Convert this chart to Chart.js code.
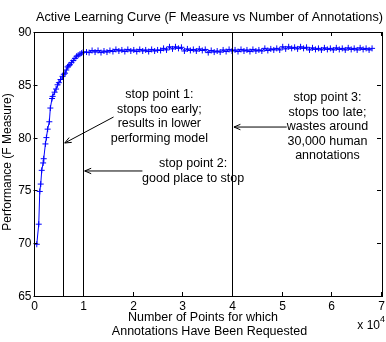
<!DOCTYPE html>
<html>
<head>
<meta charset="utf-8">
<script src="https://cdn.jsdelivr.net/npm/chart.js@4"></script>
<style>
  body { margin: 0; background: #fff; }
</style>
</head>
<body>
<canvas id="myChart" width="386" height="342"></canvas>
<script>
// number of annotations requested (x) and F measure (y)
const annotations = [
  660, 1060, 1260, 1460, 1660, 1940, 2060, 2400, 2600, 2850, 3190, 3390, 3730, 3850,
  4250, 4550, 4850, 5110, 5450, 5850, 6100, 6350, 6600, 6870, 7100, 7350, 7650, 8020,
  8350, 8680, 9000, 9350, 9700, 10020, 10680,
  11200, 11800, 12400, 13000, 13600, 14200, 14800, 15400, 16000, 16600, 17200, 17800,
  18400, 19000, 19600, 20200, 20800, 21400, 22000, 22600, 23200, 23800, 24400, 25000,
  25600, 26200, 26800, 27400, 28000, 28600, 29200, 29800, 30400, 31000, 31600, 32200,
  32800, 33400, 34000, 34600, 35200, 35800, 36400, 37000, 37600, 38200, 38800, 39400,
  40000, 40600, 41200, 41800, 42400, 43000, 43600, 44200, 44800, 45400, 46000, 46600,
  47200, 47800, 48400, 49000, 49600, 50200, 50800, 51400, 52000, 52600, 53200, 53800,
  54400, 55000, 55600, 56200, 56800, 57400, 58000, 58600, 59200, 59800, 60400, 61000,
  61600, 62200, 62800, 63400, 64000, 64600, 65200, 65800, 66400, 67000, 67600, 68200
];
const fMeasure = [
  69.9, 71.8, 74.9, 75.6, 76.9, 77.6, 78.0, 79.4, 80.0, 80.8, 81.5, 82.8, 83.7, 83.9,
  84.3, 84.6, 85.0, 85.2, 85.5, 85.8, 86.0, 86.1, 86.4, 86.7, 86.8, 86.9, 87.1, 87.3,
  87.5, 87.7, 87.8, 87.9, 88.0, 88.1, 88.1,
  88.05, 88.25, 88.1, 88.25, 88.05, 88.2, 88.1, 88.25,
  88.15, 88.35, 88.2, 88.3, 88.15, 88.35, 88.2, 88.3,
  88.15, 88.35, 88.2, 88.3, 88.15, 88.35, 88.2, 88.3,
  88.25, 88.45, 88.3,
  88.6, 88.4, 88.6, 88.45, 88.55,
  88.2, 88.4, 88.25, 88.35, 88.2, 88.4, 88.25, 88.35,
  88.05, 88.25, 88.1, 88.2, 88.1,
  88.3, 88.15, 88.35, 88.2, 88.3, 88.15, 88.35, 88.2, 88.3, 88.15, 88.35, 88.2, 88.3, 88.2,
  88.45, 88.25, 88.4, 88.3, 88.45, 88.3,
  88.6, 88.4, 88.6, 88.45, 88.55, 88.4, 88.6, 88.45, 88.55,
  88.3, 88.5, 88.35, 88.45, 88.3, 88.5, 88.35, 88.45, 88.3, 88.5, 88.35,
  88.45, 88.3, 88.5, 88.35, 88.45, 88.3, 88.5, 88.35, 88.45, 88.3, 88.45
];
const xTicks = [0, 10000, 20000, 30000, 40000, 50000, 60000, 70000];
const xTickLabels = ["0", "1", "2", "3", "4", "5", "6", "7"];
const yTicks = [65, 70, 75, 80, 85, 90];
const stopPoints = [6000, 10000, 40000];

const FONT = '"Liberation Sans", Arial, sans-serif';

const notes = [
  { x: 25350, y: 84.03, lines: ["stop point 1:", "stops too early;", "results in lower", "performing model"],
    from: [16130, 81.95], to: [6300, 79.49] },
  { x: 32160, y: 77.5, lines: ["stop point 2:", "good place to stop"],
    from: [21940, 76.84], to: [10320, 76.84] },
  { x: 59220, y: 83.75, lines: ["stop point 3:", "stops too late;", "wastes around", "30,000 human", "annotations"],
    from: [51000, 81.0], to: [40380, 81.0] }
];

function arrow(ctx, x1, y1, x2, y2) {
  const a = Math.atan2(y2 - y1, x2 - x1);
  const h = 7;
  ctx.beginPath();
  ctx.moveTo(x1, y1);
  ctx.lineTo(x2, y2);
  ctx.moveTo(x2 - h * Math.cos(a - 0.4), y2 - h * Math.sin(a - 0.4));
  ctx.lineTo(x2, y2);
  ctx.lineTo(x2 - h * Math.cos(a + 0.4), y2 - h * Math.sin(a + 0.4));
  ctx.stroke();
}

const matlabAxes = {
  id: "matlabAxes",
  afterDatasetsDraw(chart) {
    const ctx = chart.ctx;
    const xs = chart.scales.x, ys = chart.scales.y;
    const a = chart.chartArea;
    ctx.save();
    ctx.strokeStyle = "#000";
    ctx.fillStyle = "#000";
    ctx.lineWidth = 1;

    // stop point lines
    stopPoints.forEach(v => {
      const px = Math.round(xs.getPixelForValue(v)) + 0.5;
      ctx.beginPath();
      ctx.moveTo(px, a.top);
      ctx.lineTo(px, a.bottom);
      ctx.stroke();
    });

    // box
    ctx.strokeRect(Math.round(a.left) + 0.5, Math.round(a.top) + 0.5,
      Math.round(a.right - a.left), Math.round(a.bottom - a.top));

    // ticks inward
    ctx.font = "12px " + FONT;
    ctx.textAlign = "center";
    ctx.textBaseline = "top";
    xTicks.forEach((v, i) => {
      const px = Math.round(xs.getPixelForValue(v)) + 0.5;
      ctx.beginPath();
      ctx.moveTo(px, a.bottom); ctx.lineTo(px, a.bottom - 4);
      ctx.moveTo(px, a.top); ctx.lineTo(px, a.top + 4);
      ctx.stroke();
      ctx.fillText(xTickLabels[i], px, a.bottom + 5);
    });
    ctx.textAlign = "right";
    ctx.textBaseline = "middle";
    yTicks.forEach(v => {
      const py = Math.round(ys.getPixelForValue(v)) + 0.5;
      ctx.beginPath();
      ctx.moveTo(a.left, py); ctx.lineTo(a.left + 4, py);
      ctx.moveTo(a.right, py); ctx.lineTo(a.right - 4, py);
      ctx.stroke();
      ctx.fillText(String(v), a.left - 2, py);
    });

    // exponent label
    ctx.textAlign = "right";
    ctx.fillText("x 10", 380, 326);
    ctx.font = "9px " + FONT;
    ctx.textAlign = "left";
    ctx.fillText("4", 380, 320);

    // titles
    ctx.font = "12.7px " + FONT;
    ctx.textAlign = "center";
    ctx.fillText("Active Learning Curve (F Measure vs Number of Annotations)", 209.5, 17);
    ctx.font = "12.5px " + FONT;
    ctx.fillText("Number of Points for which", 203, 318);
    ctx.fillText("Annotations Have Been Requested", 209.5, 332);
    ctx.font = "12px " + FONT;
    ctx.save();
    ctx.translate(8, 162);
    ctx.rotate(-Math.PI / 2);
    ctx.fillText("Performance (F Measure)", 0, 0);
    ctx.restore();

    // notes and arrows
    ctx.font = "12.5px " + FONT;
    notes.forEach(n => {
      const cx = xs.getPixelForValue(n.x);
      const cy = ys.getPixelForValue(n.y);
      n.lines.forEach((t, i) => ctx.fillText(t, cx, cy + i * 14.5));
      arrow(ctx, xs.getPixelForValue(n.from[0]), ys.getPixelForValue(n.from[1]),
        xs.getPixelForValue(n.to[0]), ys.getPixelForValue(n.to[1]));
    });
    ctx.restore();
  }
};

const points = annotations.map((x, i) => ({ x: x, y: fMeasure[i] }));

new Chart(document.getElementById("myChart"), {
  type: "line",
  data: {
    datasets: [{
      label: "F Measure",
      data: points,
      borderColor: "#0000ff",
      borderWidth: 1,
      pointStyle: "cross",
      pointRadius: 3,
      pointBorderColor: "#0000ff",
      pointBorderWidth: 1,
      fill: false,
      tension: 0
    }]
  },
  options: {
    responsive: false,
    animation: false,
    layout: { padding: { left: 33.5, top: 32, right: 3, bottom: 46 } },
    plugins: { legend: { display: false }, tooltip: { enabled: false } },
    scales: {
      x: { type: "linear", min: 0, max: 70000, display: false },
      y: { min: 65, max: 90, display: false }
    }
  },
  plugins: [matlabAxes]
});
</script>
</body>
</html>
